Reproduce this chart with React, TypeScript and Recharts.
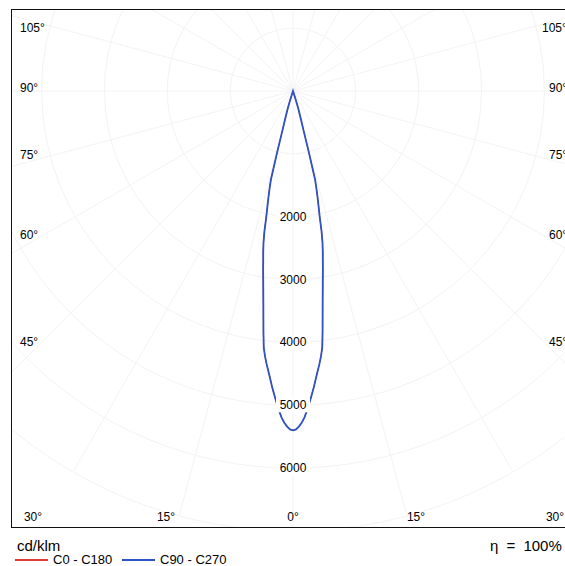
import { RadarChart, Radar, PolarGrid, PolarAngleAxis, PolarRadiusAxis } from "recharts";

// luminous intensity (cd/klm) by gamma angle (half-degree steps); symmetric lobe
const gammaDeg = [
  0, 0.5, 1, 1.5, 2, 2.5, 3, 3.5, 4, 4.5, 5, 5.5, 6, 6.5, 7, 7.5, 8, 8.5, 9,
  9.5, 10, 10.5, 11, 11.5, 12, 12.5, 13, 13.5, 14, 14.5, 15, 15.5, 16, 16.5, 17, 17.5, 18,
];
const c90Values = [
  5400, 5385, 5340, 5280, 5200, 5090, 4970, 4850, 4730, 4600, 4480, 4370, 4250, 4110, 3860, 3610, 3390, 3200, 3030,
  2880, 2730, 2600, 2460, 2280, 2040, 1880, 1740, 1600, 1450, 1000, 640, 500, 400, 320, 230, 120, 0,
];
const c0Values = [
  5400, 5385, 5340, 5280, 5200, 5090, 4970, 4850, 4730, 4600, 4480, 4370, 4250, 4110, 3860, 3610, 3390, 3200, 3030,
  2880, 2730, 2600, 2460, 2280, 2040, 1880, 1740, 1600, 1450, 1000, 640, 500, 400, 320, 230, 120, 0,
];

const radiusTicksShown = [2000, 3000, 4000, 5000, 6000];
const leftAngleLabels = ["105°", "90°", "75°", "60°", "45°"];
const rightAngleLabels = ["105°", "90°", "75°", "60°", "45°"];
const bottomAngleLabels = ["30°", "15°", "0°", "15°", "30°"];
const seriesNames = ["C0 - C180", "C90 - C270"];
const seriesColors = ["#e03a3a", "#2f52c4"];
const unitLabel = "cd/klm";
const efficiencyLabel = "η = 100%";

// layout only
const sideLabelY = [28, 88, 155, 235, 342];
const bottomLabelX = [33, 166, 293, 416, 555];
const spokeAngles = Array.from({ length: 24 }, (_, i) => i * 15);
const STEP = 0.5;
const N = 720;

const lookup = (vals: number[], g: number) => {
  const d = Math.min(g, 360 - g);
  const i = gammaDeg.indexOf(d);
  return i >= 0 ? vals[i] : 0;
};

const data = Array.from({ length: N }, (_, k) => ({
  gamma: k * STEP,
  c0: lookup(c0Values, k * STEP),
  c90: lookup(c90Values, k * STEP),
}));

const FONT = "'Liberation Sans', Arial, sans-serif";

function RadiusTick(props: any) {
  const { x, y, payload } = props;
  if (!radiusTicksShown.includes(payload.value)) return <g />;
  return (
    <g>
      <rect x={x - 17} y={y - 7} width={34} height={14} fill="#fff" />
      <text x={x} y={y} textAnchor="middle" dominantBaseline="central" fontSize={12} fill="#000" fontFamily={FONT}>
        {payload.value}
      </text>
    </g>
  );
}

const labelStyle: React.CSSProperties = {
  position: "absolute",
  fontFamily: FONT,
  fontSize: 12,
  color: "#000",
  lineHeight: "14px",
  whiteSpace: "nowrap",
};

export default function App() {
  return (
    <div
      style={{
        position: "absolute",
        left: 0,
        top: 0,
        width: 565,
        height: 566,
        background: "#fff",
        overflow: "hidden",
      }}
    >
      <div style={{ position: "absolute", left: 11, top: 9, width: 560, height: 519, overflow: "hidden" }}>
        <RadarChart
          width={560}
          height={519}
          data={data}
          cx={282}
          cy={82}
          outerRadius={440}
          startAngle={-90 - STEP}
          endAngle={270 - STEP}
          margin={{ top: 0, right: 0, bottom: 0, left: 0 }}
        >
          <PolarGrid gridType="circle" polarAngles={spokeAngles} stroke="#f3f3f3" strokeWidth={1} />
          <PolarAngleAxis dataKey="gamma" tick={false} axisLine={false} tickLine={false} />
          <Radar
            name={seriesNames[0]}
            dataKey="c0"
            stroke={seriesColors[0]}
            strokeWidth={1}
            fill="none"
            fillOpacity={0}
            dot={false}
            isAnimationActive={false}
          />
          <Radar
            name={seriesNames[1]}
            dataKey="c90"
            stroke={seriesColors[1]}
            strokeWidth={1.8}
            fill="none"
            fillOpacity={0}
            dot={false}
            isAnimationActive={false}
          />
          <PolarRadiusAxis
            angle={-90}
            domain={[0, 7000]}
            tickCount={8}
            axisLine={false}
            tickLine={false}
            tick={<RadiusTick />}
          />
        </RadarChart>
      </div>
      {/* frame */}
      <div
        style={{
          position: "absolute",
          left: 11,
          top: 9,
          width: 560,
          height: 519,
          boxSizing: "border-box",
          border: "1.5px solid #111",
          pointerEvents: "none",
        }}
      />
      {leftAngleLabels.map((t, i) => (
        <div key={"l" + i} style={{ ...labelStyle, left: 20, top: sideLabelY[i] - 7 }}>
          {t}
        </div>
      ))}
      {rightAngleLabels.map((t, i) => (
        <div key={"r" + i} style={{ ...labelStyle, left: i === 0 ? 542 : 549, top: sideLabelY[i] - 7 }}>
          {t}
        </div>
      ))}
      {bottomAngleLabels.map((t, i) => (
        <div
          key={"b" + i}
          style={{ ...labelStyle, left: bottomLabelX[i] - 20, width: 40, textAlign: "center", top: 510 }}
        >
          {t}
        </div>
      ))}
      <div style={{ ...labelStyle, fontSize: 15, left: 17, top: 537, lineHeight: "18px" }}>{unitLabel}</div>
      <div style={{ ...labelStyle, fontSize: 15, left: 490, top: 537, lineHeight: "18px", wordSpacing: 4 }}>
        {efficiencyLabel}
      </div>
      {seriesNames.map((n, i) => (
        <div
          key={n}
          style={{ ...labelStyle, fontSize: 13, top: 553, left: i === 0 ? 15 : 122, display: "flex", alignItems: "center" }}
        >
          <span style={{ display: "inline-block", width: 33, height: 1.5, background: seriesColors[i], marginRight: 5 }} />
          {n}
        </div>
      ))}
    </div>
  );
}
